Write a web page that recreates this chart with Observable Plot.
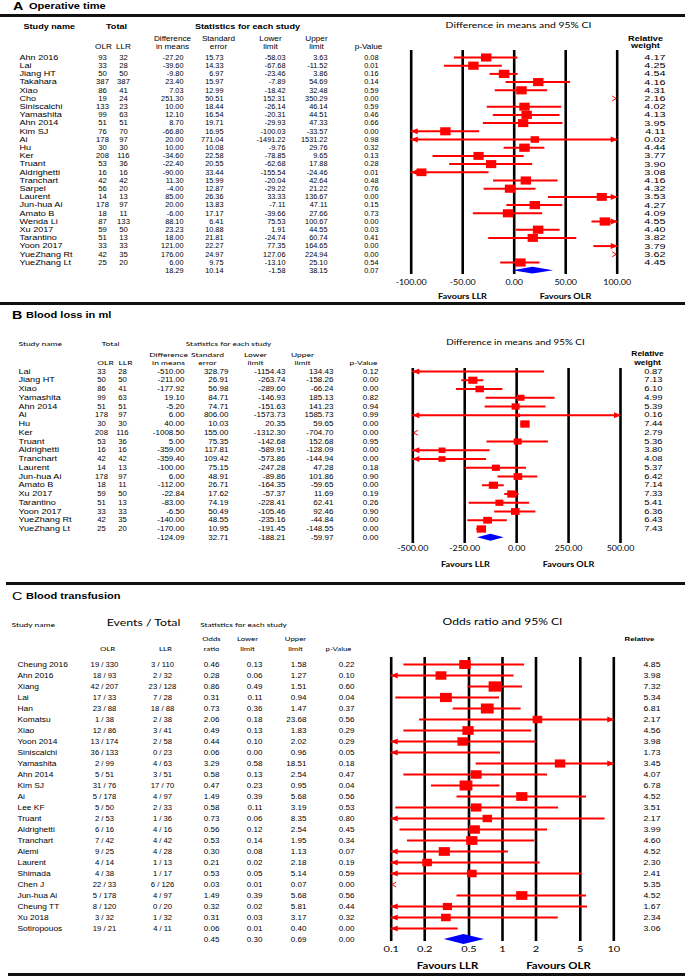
<!DOCTYPE html>
<html><head><meta charset="utf-8">
<script src="https://cdn.jsdelivr.net/npm/d3@7"></script>
<script src="https://cdn.jsdelivr.net/npm/@observablehq/plot@0.6"></script>
<style>
html,body{margin:0;padding:0;background:#fff;}
#page{position:relative;width:685px;height:978px;overflow:hidden;background:#fff;font-family:"Liberation Sans",Arial,sans-serif;color:#000;}
.rule{position:absolute;height:3px;background:#111;}
.ttl{position:absolute;white-space:nowrap;transform:scaleX(1.3);transform-origin:0 50%;line-height:12px;height:12px;}
</style></head>
<body><div id="page"></div>
<script>
// ---------------- DATA: Panel A (Operative time) ----------------
const studiesA = ["Ahn 2016","Lai","Jiang HT","Takahara","Xiao","Cho","Siniscalchi","Yamashita","Ahn 2014","Kim SJ","Ai","Hu","Ker","Truant","Aldrighetti","Tranchart","Sarpel","Laurent","Jun-hua Ai","Amato B","Wenda Li","Xu 2017","Tarantino","Yoon 2017","YueZhang Rt","YueZhang Lt"];
const olrA = [93,33,50,387,86,19,133,99,51,76,178,30,208,53,16,42,56,14,178,18,87,59,51,33,42,25];
const llrA = [32,28,50,387,41,24,23,63,51,70,97,30,116,36,16,42,20,13,97,11,133,50,13,33,35,20];
const diffA = [-27.20,-39.60,-9.80,23.40,7.03,251.30,10.00,12.10,8.70,-66.80,20.00,10.00,-34.60,-22.40,-90.00,11.30,-4.00,85.00,20.00,-6.00,88.10,23.23,18.00,121.00,176.00,6.00];
const seA = [15.73,14.33,6.97,15.97,12.99,50.51,18.44,16.54,19.71,16.95,771.04,10.08,22.58,20.55,33.44,15.99,12.87,26.36,13.83,17.17,6.41,10.88,21.81,22.27,24.97,9.75];
const lowA = [-58.03,-67.68,-23.46,-7.89,-18.42,152.31,-26.14,-20.31,-29.93,-100.03,-1491.22,-9.76,-78.85,-62.68,-155.54,-20.04,-29.22,33.33,-7.11,-39.66,75.53,1.91,-24.74,77.35,127.06,-13.10];
const upA = [3.63,-11.52,3.86,54.69,32.48,350.29,46.14,44.51,47.33,-33.57,1531.22,29.76,9.65,17.88,-24.46,42.64,21.22,136.67,47.11,27.66,100.67,44.55,60.74,164.65,224.94,25.10];
const pA = [0.08,0.01,0.16,0.14,0.59,0.00,0.59,0.46,0.66,0.00,0.98,0.32,0.13,0.28,0.01,0.48,0.76,0.00,0.15,0.73,0.00,0.03,0.41,0.00,0.00,0.54];
const wA = [4.17,4.25,4.54,4.16,4.31,2.16,4.02,4.13,3.95,4.11,0.02,4.44,3.77,3.90,3.08,4.16,4.32,3.53,4.27,4.09,4.55,4.40,3.82,3.79,3.62,4.45];
const sumA = {est: 18.29, se: 10.14, lo: -1.58, hi: 38.15, p: 0.07};
const ticksA = [-100, -50, 0, 50, 100];

// ---------------- DATA: Panel B (Blood loss in ml) ----------------
const studiesB = ["Lai","Jiang HT","Xiao","Yamashita","Ahn 2014","Ai","Hu","Ker","Truant","Aldrighetti","Tranchart","Laurent","Jun-hua Ai","Amato B","Xu 2017","Tarantino","Yoon 2017","YueZhang Rt","YueZhang Lt"];
const olrB = [33,50,86,99,51,178,30,208,53,16,42,14,178,18,59,51,33,42,25];
const llrB = [28,50,41,63,51,97,30,116,36,16,42,13,97,11,50,13,33,35,20];
const diffB = [-510.00,-211.00,-177.92,19.10,-5.20,6.00,40.00,-1008.50,5.00,-359.00,-359.40,-100.00,6.00,-112.00,-22.84,-83.00,-6.50,-140.00,-170.00];
const seB = [328.79,26.91,56.98,84.71,74.71,806.00,10.03,155.00,75.35,117.81,109.42,75.15,48.91,26.71,17.62,74.19,50.49,48.55,10.95];
const lowB = [-1154.43,-263.74,-289.60,-146.93,-151.63,-1573.73,20.35,-1312.30,-142.68,-589.91,-573.86,-247.28,-89.86,-164.35,-57.37,-228.41,-105.46,-235.16,-191.45];
const upB = [134.43,-158.26,-66.24,185.13,141.23,1585.73,59.65,-704.70,152.68,-128.09,-144.94,47.28,101.86,-59.65,11.69,62.41,92.46,-44.84,-148.55];
const pB = [0.12,0.00,0.00,0.82,0.94,0.99,0.00,0.00,0.95,0.00,0.00,0.18,0.90,0.00,0.19,0.26,0.90,0.00,0.00];
const wB = [0.87,7.13,6.10,4.99,5.39,0.16,7.44,2.79,5.36,3.80,4.08,5.37,6.42,7.14,7.33,5.41,6.36,6.43,7.43];
const sumB = {est: -124.09, se: 32.71, lo: -188.21, hi: -59.97, p: 0.00};
const ticksB = [-500, -250, 0, 250, 500];

// ---------------- DATA: Panel C (Blood transfusion) ----------------
const studiesC = ["Cheung 2016","Ahn 2016","Xiang","Lai","Han","Komatsu","Xiao","Yoon 2014","Siniscalchi","Yamashita","Ahn 2014","Kim SJ","Ai","Lee KF","Truant","Aldrighetti","Tranchart","Alemi","Laurent","Shimada","Chen J","Jun-hua Ai","Cheung TT","Xu 2018","Sotiropouos"];
const evOlrC = [19,18,42,17,23,1,12,13,36,2,5,31,5,5,2,6,7,9,4,4,22,5,8,3,19];
const nOlrC = [330,93,207,33,88,38,86,174,133,99,51,76,178,50,53,16,42,25,14,38,33,178,120,32,21];
const evLlrC = [3,2,23,7,18,2,3,2,0,4,3,17,4,2,1,4,4,4,1,1,6,4,0,1,4];
const nLlrC = [110,32,128,28,88,38,41,58,23,63,51,70,97,33,36,16,42,28,13,17,126,97,20,32,11];
const orC = [0.46,0.28,0.86,0.31,0.73,2.06,0.49,0.44,0.06,3.29,0.58,0.47,1.49,0.58,0.73,0.56,0.53,0.30,0.21,0.53,0.03,1.49,0.32,0.31,0.06];
const lowC = [0.13,0.06,0.49,0.11,0.36,0.18,0.13,0.10,0.00,0.58,0.13,0.23,0.39,0.11,0.06,0.12,0.14,0.08,0.02,0.05,0.01,0.39,0.02,0.03,0.01];
const upC = [1.58,1.27,1.51,0.94,1.47,23.68,1.83,2.02,0.96,18.51,2.54,0.95,5.68,3.19,8.35,2.54,1.95,1.13,2.18,5.14,0.07,5.68,5.81,3.17,0.40];
const pC = [0.22,0.10,0.60,0.04,0.37,0.56,0.29,0.29,0.05,0.18,0.47,0.04,0.56,0.53,0.80,0.45,0.34,0.07,0.19,0.59,0.00,0.56,0.44,0.32,0.00];
const wC = [4.85,3.98,7.32,5.34,6.81,2.17,4.56,3.98,1.73,3.45,4.07,6.78,4.52,3.51,2.17,3.99,4.60,4.52,2.30,2.41,5.35,4.52,1.67,2.34,3.06];
const sumC = {est: 0.45, lo: 0.30, hi: 0.69, p: 0.00};
const ticksC = [0.1, 0.2, 0.5, 1, 2, 5, 10];

// ---------------- STYLE ----------------
const RED = "#ff0000", BLUE = "#0000ff";
const SANS = "'Liberation Sans', Arial, Helvetica, sans-serif";
const HUM = "Lato, 'Open Sans', sans-serif";
const page = document.getElementById("page");
const f2 = v => v.toFixed(2);

const rectSym = {draw(ctx, size) { const r = Math.sqrt(size / Math.PI), h = r * 0.78; ctx.moveTo(-r, -h); ctx.lineTo(r, -h); ctx.lineTo(r, h); ctx.lineTo(-r, h); ctx.closePath(); }};
const arrowL = {draw(ctx) { ctx.moveTo(-0.5, 0); ctx.lineTo(6.5, -3); ctx.lineTo(6.5, 3); ctx.closePath(); }};
const arrowR = {draw(ctx) { ctx.moveTo(0.5, 0); ctx.lineTo(-6.5, -3); ctx.lineTo(-6.5, 3); ctx.closePath(); }};
const chevL = {draw(ctx) { ctx.moveTo(5, -2.5); ctx.lineTo(1, 0); ctx.lineTo(5, 2.5); }};
const chevR = {draw(ctx) { ctx.moveTo(-5, -2.5); ctx.lineTo(-1, 0); ctx.lineTo(-5, 2.5); }};

// horizontal stretch of glyphs (the reference's type is widened); applied about each text's own anchor
function stretch(svg) {
  svg.querySelectorAll("[aria-description]").forEach(g => {
    const m = /^sx=([\d.]+)$/.exec(g.getAttribute("aria-description") || "");
    if (!m) return;
    const k = +m[1];
    g.querySelectorAll("text").forEach(t => {
      const tr = t.getAttribute("transform") || "";
      t.setAttribute("transform", (tr ? tr + " " : "") + `scale(${k},1)`);
    });
  });
}

function geom(rows, xmin, xmax) {
  const seg = [], aL = [], aR = [], sq = [], cL = [], cR = [];
  for (const d of rows) {
    if (d.lo >= xmax) { cR.push(d); continue; }
    if (d.hi <= xmin) { cL.push(d); continue; }
    seg.push({...d, a: Math.max(d.lo, xmin), b: Math.min(d.hi, xmax)});
    if (d.lo <= xmin) aL.push(d);
    if (d.hi >= xmax) aR.push(d);
    if (d.est >= xmin && d.est <= xmax) sq.push(d);
  }
  return {seg, aL, aR, sq, cL, cR};
}

function mkLab(top) {
  return (s, x, y, o = {}) => Plot.text([s], {text: d => d, frameAnchor: "top-left", dx: x, dy: y - top,
    lineAnchor: "middle", textAnchor: "middle", fill: "#000", fontFamily: HUM, fontSize: 7, ariaDescription: "sx=1.3", ...o});
}

function tableMarks(rows, cols) {
  return cols.map(c => Plot.text(rows.filter(d => d[c.k] != null), {
    y: "i", text: c.k, frameAnchor: "left", dx: c.x, textAnchor: c.a, lineAnchor: "middle",
    fontSize: c.fs || 7, fontFamily: SANS, fill: "#000", ariaDescription: "sx=" + c.sx}));
}

function buildPanel(P) {
  const n = P.n, [xmin, xmax] = P.xDomain;
  const g = geom(P.rows, xmin, xmax);
  const h = P.diamondHalf / P.step, s = P.summary;
  const diamond = [{y: n - h, x1: s.est, x2: s.est}, {y: n, x1: s.lo, x2: s.hi}, {y: n + h, x1: s.est, x2: s.est}];
  const marks = [
    Plot.ruleX(P.ticks, {x: d => d, y1: () => P.gridY[0], y2: () => P.gridY[1], stroke: "#000", strokeWidth: 2.6}),
    Plot.ruleY(g.seg, {y: "i", x1: "a", x2: "b", stroke: RED, strokeWidth: P.ciW}),
    Plot.dot(g.aL, {x: () => xmin, y: "i", symbol: arrowL, fill: RED, stroke: "none"}),
    Plot.dot(g.aR, {x: () => xmax, y: "i", symbol: arrowR, fill: RED, stroke: "none"}),
    Plot.dot(g.cL, {x: () => xmin, y: "i", symbol: chevL, fill: "none", stroke: RED, strokeWidth: 1}),
    Plot.dot(g.cR, {x: () => xmax, y: "i", symbol: chevR, fill: "none", stroke: RED, strokeWidth: 1}),
    Plot.dot(g.sq, {x: "est", y: "i", r: "w", symbol: rectSym, fill: RED, stroke: "none"}),
    Plot.areaX(diamond, {y: "y", x1: "x1", x2: "x2", fill: BLUE, curve: "linear"}),
    Plot.text(P.ticks, {x: d => d, y: () => n, dy: P.tickDy, text: P.tickFmt, fontFamily: HUM, fontSize: P.tickFs, fill: "#000", lineAnchor: "middle", ariaDescription: "sx=1.3"}),
    ...P.textMarks
  ];
  const svg = Plot.plot({
    width: 685, height: P.height, margin: 0,
    style: {background: "transparent", overflow: "visible"},
    x: {type: P.xType, domain: P.xDomain, range: P.xRange, axis: null},
    y: {type: "linear", domain: [0, n], range: [P.y0 - P.top, P.y0 + n * P.step - P.top], axis: null},
    r: {type: "linear", domain: P.rDomain, range: P.rRange},
    marks
  });
  stretch(svg);
  svg.style.position = "absolute"; svg.style.left = "0px"; svg.style.top = P.top + "px";
  page.appendChild(svg);
}

function rule(y, x0) {
  const d = document.createElement("div"); d.className = "rule";
  d.style.top = y + "px"; d.style.left = x0 + "px"; d.style.width = (685 - x0) + "px";
  page.appendChild(d);
}
function title(text, x, cy, size, weight) {
  const d = document.createElement("div"); d.className = "ttl"; d.textContent = text;
  d.style.left = x + "px"; d.style.top = (cy - 6) + "px"; d.style.fontSize = size + "px"; d.style.fontWeight = weight;
  page.appendChild(d);
}

rule(13.5, 0); rule(302, 0); rule(582, 6); rule(973, 8);
title("A", 13, 6.3, 11, "bold"); title("Operative time", 29, 6.3, 8.5, "bold");
title("B", 12, 315, 11, "bold"); title("Blood loss in ml", 26, 315, 8.5, "bold");
title("C", 12, 595.5, 11, "normal"); title("Blood transfusion", 26, 595.5, 8.5, "bold");

// ---------------- Panel A ----------------
{
  const TOP = 17, lab = mkLab(TOP), n = studiesA.length;
  const rows = studiesA.map((name, i) => ({i, name, est: diffA[i], lo: lowA[i], hi: upA[i], w: wA[i],
    c1: String(olrA[i]), c2: String(llrA[i]), c3: f2(diffA[i]), c4: f2(seA[i]), c5: f2(lowA[i]), c6: f2(upA[i]), c7: f2(pA[i]), wt: f2(wA[i])}));
  const all = [...rows, {i: n, c3: f2(sumA.est), c4: f2(sumA.se), c5: f2(sumA.lo), c6: f2(sumA.hi), c7: f2(sumA.p)}];
  const cols = [
    {k: "name", x: 19, a: "start", sx: 1.3}, {k: "c1", x: 102, a: "middle", sx: 1.1}, {k: "c2", x: 123, a: "middle", sx: 1.1},
    {k: "c3", x: 183, a: "end", sx: 1.05}, {k: "c4", x: 223, a: "end", sx: 1.05}, {k: "c5", x: 285, a: "end", sx: 1.05},
    {k: "c6", x: 327, a: "end", sx: 1.05}, {k: "c7", x: 378, a: "end", sx: 1.05}, {k: "wt", x: 665, a: "end", sx: 1.45, fs: 7.5}];
  const B7 = {fontFamily: SANS, fontWeight: "bold", fontSize: 7};
  const S6 = {fontFamily: SANS, fontSize: 6.3};
  buildPanel({
    rows, n, top: TOP, height: 285, y0: 57, step: 8.2,
    xType: "linear", xDomain: [-100, 100], xRange: [410.7, 616.7], ticks: ticksA, tickFmt: f2, tickDy: 11.8, tickFs: 6.8,
    gridY: [-0.85, 26.46], ciW: 2, diamondHalf: 3.4, summary: sumA, rDomain: [0, 4.55], rRange: [4.2, 5.3],
    textMarks: [
      ...tableMarks(all, cols),
      lab("Study name", 23, 26.5, {...B7, textAnchor: "start"}), lab("Total", 116, 26.5, B7), lab("Statistics for each study", 247, 26.5, B7),
      lab("Difference", 172, 38.5, S6), lab("in means", 172, 46, S6), lab("Standard", 218, 38.5, S6), lab("error", 218, 46, S6),
      lab("Lower", 270, 38.5, S6), lab("limit", 270, 46, S6), lab("Upper", 316, 38.5, S6), lab("limit", 316, 46, S6),
      lab("OLR", 103, 46, S6), lab("LLR", 123, 46, S6), lab("p-Value", 368, 46, S6),
      lab("Difference in means and 95% CI", 518, 25, {fontSize: 8}),
      lab("Relative", 645, 38, B7), lab("weight", 645, 45.5, B7),
      lab("Favours LLR", 462, 296, {fontWeight: "bold", fontSize: 7}), lab("Favours OLR", 565, 296, {fontWeight: "bold", fontSize: 7})
    ]
  });
}

// ---------------- Panel B ----------------
{
  const TOP = 305, lab = mkLab(TOP), n = studiesB.length;
  const rows = studiesB.map((name, i) => ({i, name, est: diffB[i], lo: lowB[i], hi: upB[i], w: wB[i],
    c1: String(olrB[i]), c2: String(llrB[i]), c3: f2(diffB[i]), c4: f2(seB[i]), c5: f2(lowB[i]), c6: f2(upB[i]), c7: f2(pB[i]), wt: f2(wB[i])}));
  const all = [...rows, {i: n, c3: f2(sumB.est), c4: f2(sumB.se), c5: f2(sumB.lo), c6: f2(sumB.hi), c7: f2(sumB.p)}];
  const cols = [
    {k: "name", x: 18, a: "start", sx: 1.3}, {k: "c1", x: 101, a: "middle", sx: 1.1}, {k: "c2", x: 122, a: "middle", sx: 1.1},
    {k: "c3", x: 184, a: "end", sx: 1.15}, {k: "c4", x: 228, a: "end", sx: 1.15}, {k: "c5", x: 285, a: "end", sx: 1.15},
    {k: "c6", x: 333, a: "end", sx: 1.15}, {k: "c7", x: 378, a: "end", sx: 1.15}, {k: "wt", x: 662, a: "end", sx: 1.35}];
  const H = {fontSize: 6.5};
  const B6 = {fontFamily: SANS, fontWeight: "bold", fontSize: 6.5};
  buildPanel({
    rows, n, top: TOP, height: 277, y0: 371, step: 8.75,
    xType: "linear", xDomain: [-500, 500], xRange: [412.3, 620], ticks: ticksB, tickFmt: f2, tickDy: 10.75, tickFs: 6.8,
    gridY: [-0.34, 19.66], ciW: 2, diamondHalf: 3.6, summary: sumB, rDomain: [0, 7.44], rRange: [2.2, 4.7],
    textMarks: [
      ...tableMarks(all, cols),
      lab("Study name", 18, 343, {...H, textAnchor: "start"}), lab("Total", 110, 343, H), lab("Statistics for each study", 228, 343, {fontSize: 6.3}),
      lab("Difference", 168, 354.5, H), lab("in means", 168, 362, H), lab("Standard", 207, 354.5, H), lab("error", 207, 362, H),
      lab("Lower", 255, 354.5, H), lab("limit", 255, 362, H), lab("Upper", 302, 354.5, H), lab("limit", 302, 362, H),
      lab("OLR", 105, 362, H), lab("LLR", 125, 362, H), lab("p-Value", 363, 362, H),
      lab("Difference in means and 95% CI", 515, 342, {fontSize: 7.6}),
      lab("Relative", 647, 353, B6), lab("weight", 647, 362, B6),
      lab("Favours LLR", 465, 564, {fontWeight: "bold", fontSize: 7}), lab("Favours OLR", 568, 564, {fontWeight: "bold", fontSize: 7})
    ]
  });
}

// ---------------- Panel C ----------------
{
  const TOP = 585, lab = mkLab(TOP), n = studiesC.length;
  const rows = studiesC.map((name, i) => ({i, name, est: orC[i], lo: lowC[i], hi: upC[i], w: wC[i],
    c1: `${evOlrC[i]} / ${nOlrC[i]}`, c2: `${evLlrC[i]} / ${nLlrC[i]}`, c3: f2(orC[i]), c5: f2(lowC[i]), c6: f2(upC[i]), c7: f2(pC[i]), wt: f2(wC[i])}));
  const all = [...rows, {i: n, c3: f2(sumC.est), c5: f2(sumC.lo), c6: f2(sumC.hi), c7: f2(sumC.p)}];
  const cols = [
    {k: "name", x: 17, a: "start", sx: 1.2}, {k: "c1", x: 104, a: "middle", sx: 1.1}, {k: "c2", x: 162, a: "middle", sx: 1.1},
    {k: "c3", x: 219, a: "end", sx: 1.15}, {k: "c5", x: 262, a: "end", sx: 1.15}, {k: "c6", x: 306, a: "end", sx: 1.15},
    {k: "c7", x: 354, a: "end", sx: 1.15}, {k: "wt", x: 660, a: "end", sx: 1.25}];
  const H = {fontSize: 6};
  buildPanel({
    rows, n, top: TOP, height: 388, y0: 664, step: 11,
    xType: "log", xDomain: [0.1, 10], xRange: [390.7, 613.3], ticks: ticksC, tickFmt: d => String(d), tickDy: 10, tickFs: 8.5,
    gridY: [-0.64, 25.18], ciW: 2.2, diamondHalf: 5, summary: sumC, rDomain: [0, 7.32], rRange: [4.0, 6.6],
    textMarks: [
      ...tableMarks(all, cols),
      lab("Study name", 11, 624, {fontSize: 6.5, textAnchor: "start"}), lab("Events / Total", 143, 622, {fontSize: 9.5}),
      lab("Statistics for each study", 243, 624, {fontSize: 6.4}),
      lab("Odds", 211, 639, H), lab("ratio", 211, 649, H), lab("Lower", 247, 639, H), lab("limit", 247, 649, H),
      lab("Upper", 295, 639, H), lab("limit", 295, 649, H),
      lab("OLR", 107, 649, H), lab("LLR", 165, 649, H), lab("p-Value", 338, 649, H),
      lab("Odds ratio and 95% CI", 502, 622, {fontSize: 9.3}),
      lab("Relative", 639, 639, {fontFamily: SANS, fontWeight: "bold", fontSize: 6}),
      lab("Favours LLR", 447, 966, {fontWeight: "bold", fontSize: 8.8}), lab("Favours OLR", 558, 966, {fontWeight: "bold", fontSize: 8.8})
    ]
  });
}
</script></body></html>
